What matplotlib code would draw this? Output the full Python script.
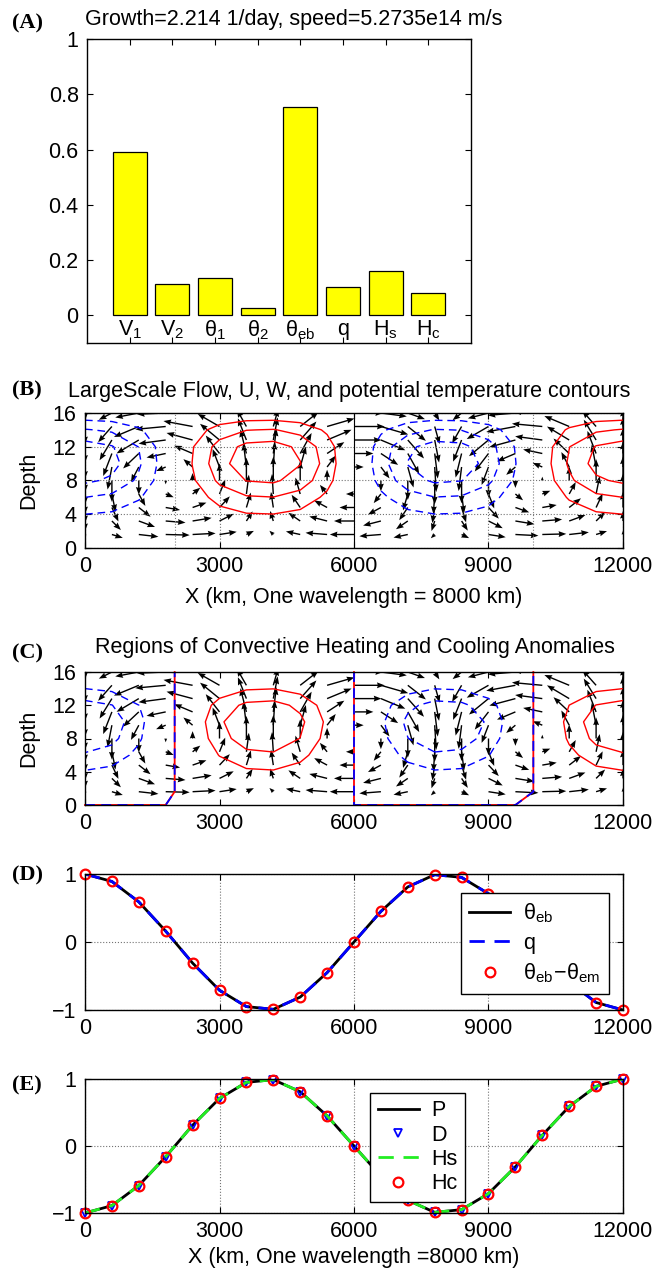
import numpy as np
import matplotlib
matplotlib.use("Agg")
import matplotlib.pyplot as plt
from matplotlib.lines import Line2D

FS = 15.5
plt.rcParams['font.family'] = ['Liberation Sans', 'DejaVu Sans']
plt.rcParams['mathtext.fontset'] = 'custom'
plt.rcParams['mathtext.rm'] = 'Liberation Sans'
plt.rcParams['mathtext.it'] = 'Liberation Sans:italic'
plt.rcParams['font.size'] = FS
plt.rcParams['lines.dashed_pattern'] = [5.5, 3.5]

# ---- panel A: eigenvector magnitudes
bar_names = [r'$\mathregular{V_1}$', r'$\mathregular{V_2}$', r'$\mathregular{\theta_1}$',
             r'$\mathregular{\theta_2}$', r'$\mathregular{\theta_{eb}}$', 'q',
             r'$\mathregular{H_s}$', r'$\mathregular{H_c}$']
bar_vals = [0.592, 0.115, 0.137, 0.027, 0.753, 0.103, 0.161, 0.081]
title_a = 'Growth=2.214 1/day, speed=5.2735e14 m/s'

# ---- horizontal sample points (km)
x_km = [0, 600, 1200, 1800, 2400, 3000, 3600, 4200, 4800, 5400, 6000,
        6600, 7200, 7800, 8400, 9000, 9600, 10200, 10800, 11400, 12000]

# ---- panel D
theta_eb = [1.0, 0.89, 0.59, 0.16, -0.31, -0.71, -0.95, -0.99, -0.81, -0.45, 0.0,
            0.45, 0.81, 0.99, 0.95, 0.71, 0.31, -0.16, -0.59, -0.89, -1.0]
q_vals = [1.0, 0.89, 0.59, 0.16, -0.31, -0.71, -0.95, -0.99, -0.81, -0.45, 0.0,
          0.45, 0.81, 0.99, 0.95, 0.71, 0.31, -0.16, -0.59, -0.89, -1.0]
theta_diff = [1.0, 0.89, 0.59, 0.16, -0.31, -0.71, -0.95, -0.99, -0.81, -0.45, 0.0,
              0.45, 0.81, 0.99, 0.95, 0.71, 0.31, -0.16, -0.59, -0.89, -1.0]

# ---- panel E
P_vals = [-1.0, -0.89, -0.59, -0.16, 0.31, 0.71, 0.95, 0.99, 0.81, 0.45, 0.0,
          -0.45, -0.81, -0.99, -0.95, -0.71, -0.31, 0.16, 0.59, 0.89, 1.0]
D_vals = [-1.0, -0.89, -0.59, -0.16, 0.31, 0.71, 0.95, 0.99, 0.81, 0.45, 0.0,
          -0.45, -0.81, -0.99, -0.95, -0.71, -0.31, 0.16, 0.59, 0.89, 1.0]
Hs_vals = [-1.0, -0.89, -0.59, -0.16, 0.31, 0.71, 0.95, 0.99, 0.81, 0.45, 0.0,
           -0.45, -0.81, -0.99, -0.95, -0.71, -0.31, 0.16, 0.59, 0.89, 1.0]
Hc_vals = [-1.0, -0.89, -0.59, -0.16, 0.31, 0.71, 0.95, 0.99, 0.81, 0.45, 0.0,
           -0.45, -0.81, -0.99, -0.95, -0.71, -0.31, 0.16, 0.59, 0.89, 1.0]

# ---- panels B, C: flow and temperature structure
u_horiz = [0.0, 0.45, 0.81, 0.99, 0.95, 0.71, 0.31, -0.16, -0.59, -0.89, -1.0,
           -0.89, -0.59, -0.16, 0.31, 0.71, 0.95, 0.99, 0.81, 0.45, 0.0]
z_flow = [1.6, 3.2, 4.8, 6.4, 8.0, 9.6, 11.2, 12.8, 14.4, 16.0]
u_prof = [0.75, 0.62, 0.45, 0.25, 0.0, -0.3, -0.6, -0.85, -0.95, -0.9]
w_prof = [0.15, 0.4, 0.62, 0.8, 0.95, 1.0, 1.0, 0.9, 0.7, 0.3]
z_theta = [0, 2, 4, 6, 8, 10, 12, 14, 16]
theta_prof_b = [0.0, 0.15, 0.3, 0.55, 0.85, 1.0, 0.92, 0.57, 0.1]
theta_prof_c = [0.0, 0.25, 0.48, 0.72, 0.92, 1.0, 0.85, 0.5, 0.1]
levels_b = [-0.8, -0.55, -0.3, 0.3, 0.55, 0.8]
levels_c = [-0.75, -0.5, 0.5, 0.75]
b_marks = [2000, 6000, 10000]
# convective region boundaries (panel C)
bnd1_x = [0, 1800, 2000, 2000]
bnd1_z = [0, 0, 1.6, 16]
bnd2_x = [6000, 6000, 9600, 10000, 10000]
bnd2_z = [16, 0, 0, 1.6, 16]

U_SCALE = 720.0   # km per unit on the plot
W_SCALE = 3.0     # depth units per unit

W_PX, H_PX = 654, 1274
fig = plt.figure(figsize=(W_PX / 100, H_PX / 100), dpi=100)


def px_axes(left, top, right, bottom):
    return fig.add_axes([left / W_PX, 1 - bottom / H_PX,
                         (right - left) / W_PX, (bottom - top) / H_PX])


def style(ax):
    ax.tick_params(direction='in', top=True, right=True, length=4, width=0.8,
                   labelsize=FS, pad=6)
    for s in ax.spines.values():
        s.set_linewidth(1.0)


def ftext(x, y, s, **kw):
    fig.text(x / W_PX, 1 - y / H_PX, s, **kw)


def panel_label(y, s):
    ftext(12, y, s, family='Liberation Serif', weight='bold', size=16, va='center')


# ---------------- A
ax_a = px_axes(87, 39, 471, 343)
pos = np.arange(1, len(bar_vals) + 1)
ax_a.bar(pos, bar_vals, width=0.8, color='#ffff00', edgecolor='k', linewidth=0.9)
ax_a.set_xlim(0, 9)
ax_a.set_ylim(-0.1, 1)
ax_a.set_yticks([0, 0.2, 0.4, 0.6, 0.8, 1.0])
ax_a.set_yticklabels(['0', '0.2', '0.4', '0.6', '0.8', '1'])
ax_a.set_xticks(pos)
ax_a.set_xticklabels([])
style(ax_a)
for p, name in zip(pos, bar_names):
    ax_a.text(p, -0.012, name, ha='center', va='top', fontsize=FS)
ftext(85, 20, title_a, va='center', ha='left')
panel_label(23, '(A)')

# fields
xq, zq = np.meshgrid(x_km, z_flow)
U = np.outer(u_prof, u_horiz) * U_SCALE
Wv = -np.outer(w_prof, theta_eb) * W_SCALE
theta_b = -np.outer(theta_prof_b, theta_eb)
theta_c = -np.outer(theta_prof_c, theta_eb)

qkw = dict(angles='xy', scale_units='xy', scale=1, width=0.0026, headwidth=4.2,
           headlength=5.5, headaxislength=5, color='k', minlength=0.3)

# ---------------- B
ax_b = px_axes(85, 413, 623, 548)
ax_b.contour(x_km, z_theta, theta_b, levels=levels_b,
             colors=['b', 'b', 'b', 'r', 'r', 'r'],
             linestyles=['--', '--', '--', '-', '-', '-'], linewidths=1)
ax_b.quiver(xq, zq, U, Wv, **qkw)
for xm in b_marks:
    if xm == 6000:
        ax_b.axvline(xm, color='k', lw=0.8)
    else:
        ax_b.axvline(xm, color='0.5', lw=0.8, ls=':')
ax_b.set_xlim(0, 12000)
ax_b.set_ylim(0, 16)
ax_b.set_xticks([0, 3000, 6000, 9000, 12000])
ax_b.set_yticks([0, 4, 8, 12, 16])
ax_b.grid(True, linestyle=':', color='0.45', linewidth=0.8)
style(ax_b)
ftext(349, 392, 'LargeScale Flow, U, W, and potential temperature contours',
      ha='center', va='center')
ftext(354, 597, 'X (km, One wavelength = 8000 km)', ha='center', va='center')
ftext(29, 480, 'Depth', rotation=90, ha='center', va='center')
panel_label(390, '(B)')

# ---------------- C
ax_c = px_axes(85, 672, 623, 805)
ax_c.contour(x_km, z_theta, theta_c, levels=levels_c,
             colors=['b', 'b', 'r', 'r'],
             linestyles=['--', '--', '-', '-'], linewidths=1)
ax_c.quiver(xq, zq, U, Wv, **qkw)
for bx, bz in [(bnd1_x, bnd1_z), (bnd2_x, bnd2_z)]:
    ax_c.plot(bx, bz, color='r', lw=1.3, clip_on=False)
    ax_c.plot(bx, bz, color='b', lw=1.3, ls='--', clip_on=False)
ax_c.set_xlim(0, 12000)
ax_c.set_ylim(0, 16)
ax_c.set_xticks([0, 3000, 6000, 9000, 12000])
ax_c.set_yticks([0, 4, 8, 12, 16])
style(ax_c)
ftext(355, 648, 'Regions of Convective Heating and Cooling Anomalies',
      ha='center', va='center')
ftext(29, 738, 'Depth', rotation=90, ha='center', va='center')
panel_label(653, '(C)')

# ---------------- D
ax_d = px_axes(85, 874, 623, 1010)
ax_d.plot(x_km, theta_eb, color='k', lw=2)
ax_d.plot(x_km, q_vals, color='b', lw=2, ls='--')
ax_d.plot(x_km, theta_diff, ls='none', marker='o', ms=7, mfc='none',
          mec='r', mew=1.6, clip_on=False)
ax_d.set_xlim(0, 12000)
ax_d.set_ylim(-1, 1)
ax_d.set_xticks([0, 3000, 6000, 9000, 12000])
ax_d.set_yticks([-1, 0, 1])
ax_d.grid(True, linestyle=':', color='0.45', linewidth=0.8)
style(ax_d)
hd = [Line2D([], [], color='k', lw=2),
      Line2D([], [], color='b', lw=2, ls='--'),
      Line2D([], [], ls='none', marker='o', ms=7, mfc='none', mec='r', mew=1.6)]
leg = ax_d.legend(hd, [r'$\mathregular{\theta_{eb}}$', 'q',
                       r'$\mathregular{\theta_{eb}\!-\!\theta_{em}}$'],
                  loc='upper right', bbox_to_anchor=(0.974, 0.86),
                  borderaxespad=0, fancybox=False, framealpha=1, edgecolor='k',
                  fontsize=FS, handlelength=1.9, labelspacing=0.35,
                  borderpad=0.4, handletextpad=0.6)
leg.get_frame().set_linewidth(1.0)
panel_label(875, '(D)')

# ---------------- E
ax_e = px_axes(85, 1079, 623, 1213)
ax_e.plot(x_km, P_vals, color='k', lw=2)
ax_e.plot(x_km, D_vals, ls='none', marker='v', ms=6, mfc='none', mec='b',
          mew=1.3, clip_on=False)
ax_e.plot(x_km, Hs_vals, color='#22ee22', lw=2, ls='--')
ax_e.plot(x_km, Hc_vals, ls='none', marker='o', ms=7, mfc='none', mec='r',
          mew=1.6, clip_on=False)
ax_e.set_xlim(0, 12000)
ax_e.set_ylim(-1, 1)
ax_e.set_xticks([0, 3000, 6000, 9000, 12000])
ax_e.set_yticks([-1, 0, 1])
ax_e.grid(True, linestyle=':', color='0.45', linewidth=0.8)
style(ax_e)
he = [Line2D([], [], color='k', lw=2),
      Line2D([], [], ls='none', marker='v', ms=6, mfc='none', mec='b', mew=1.3),
      Line2D([], [], color='#22ee22', lw=2, ls='--'),
      Line2D([], [], ls='none', marker='o', ms=7, mfc='none', mec='r', mew=1.6)]
leg = ax_e.legend(he, ['P', 'D', 'Hs', 'Hc'], loc='upper left',
                  bbox_to_anchor=(0.53, 0.896), borderaxespad=0,
                  fancybox=False, framealpha=1, edgecolor='k', fontsize=FS,
                  handlelength=1.9, labelspacing=0.15, borderpad=0.35,
                  handletextpad=0.6)
leg.get_frame().set_linewidth(1.0)
ftext(354, 1258, 'X (km, One wavelength =8000 km)', ha='center', va='center')
panel_label(1085, '(E)')

fig.savefig('out.png', dpi=100)
